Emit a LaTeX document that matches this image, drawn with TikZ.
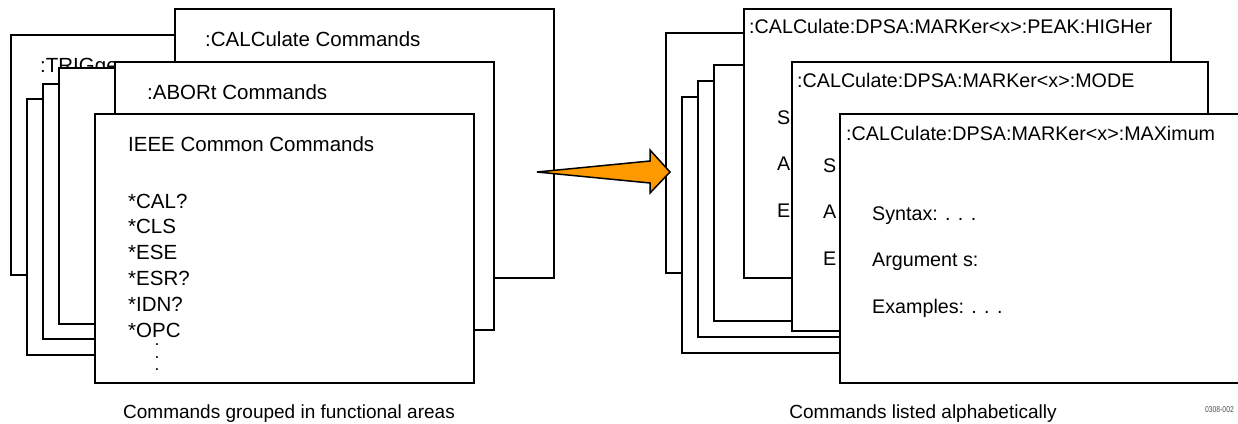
\documentclass[tikz,border=0pt]{standalone}
\usepackage{fontspec}
\setmainfont{Liberation Sans}
\newfontfamily\figfont[FakeStretch=0.8]{Liberation Sans}
\definecolor{arroworange}{RGB}{255,153,0}

\begin{document}
\begin{tikzpicture}[x=1pt, y=-1pt,
    page/.style={draw, fill=white, line width=2pt},
    lbl/.style={anchor=base west, inner sep=0pt, font=\fontsize{20.5}{24}\selectfont},
    hdr/.style={anchor=base west, inner sep=0pt, font=\fontsize{19.7}{24}\selectfont},
    captext/.style={anchor=base, inner sep=0pt, font=\fontsize{19}{22}\selectfont},
    bigarrow/.style={draw, fill=arroworange, line width=1.5pt, line join=miter}]
    \useasboundingbox (0,0) rectangle (1238,423);

    % Left stack: commands grouped by area
    \draw[page] (11,35) rectangle (400,275);
    \begin{scope}
        \clip (11,35) rectangle (115,275);
        \node[lbl] (trig) at (40,72) {:TRIGger Commands};
    \end{scope}
    \draw[page] (27,99) rectangle (300,355);
    \draw[page] (43,84) rectangle (300,339);
    \draw[page] (59,68) rectangle (300,324);
    \draw[page] (175,9) rectangle (554,278);
    \node[lbl] (calc) at (205,46) {:CALCulate Commands};
    \draw[page] (115,62) rectangle (494,330);
    \node[lbl] (abort) at (147,99) {:ABORt Commands};
    \draw[page] (95,114) rectangle (474,383);
    \node[lbl] (ieee) at (128,151) {IEEE Common Commands};
    \foreach \cmd [count=\i from 0] in {*CAL?, *CLS, *ESE, *ESR?, *IDN?, *OPC}
        \node[lbl] (cmd\i) at (128,208+25.8*\i) {\cmd};
    \node[lbl, anchor=north, align=center, font=\bfseries\fontsize{12}{12.5}\selectfont]
        (more) at (157,344) {.\\.\\.};

    % Right stack: commands in alphabetical order
    \draw[page] (666,33) rectangle (800,273);
    \draw[page] (682,97) rectangle (850,353);
    \draw[page] (698,81) rectangle (850,337);
    \draw[page] (714,65) rectangle (850,321);
    \draw[page] (744,9) rectangle (1171,278);
    \node[hdr] (peak) at (749,33) {:CALCulate:DPSA:MARKer<x>:PEAK:HIGHer};
    \foreach \t [count=\i from 0] in {S, A, E}
        \node[hdr] (peak\t) at (777,124+46.5*\i) {\t};
    \draw[page] (792,62) rectangle (1208,331);
    \node[hdr] (mode) at (797,87) {:CALCulate:DPSA:MARKer<x>:MODE};
    \foreach \t [count=\i from 0] in {S, A, E}
        \node[hdr] (mode\t) at (823,172+46.5*\i) {\t};
    \draw[page] (840,114) rectangle (1250,383);
    \node[hdr] (maxi) at (846,140) {:CALCulate:DPSA:MARKer<x>:MAXimum};
    \node[hdr] (syntax) at (872,220) {Syntax: . . .};
    \node[hdr] (args) at (872,266) {Argument s:};
    \node[hdr] (examples) at (872,313) {Examples: . . .};

    % Arrow between the stacks
    \coordinate (tail) at (537,172);
    \coordinate (tip) at (670,172);
    \draw[bigarrow] (tail) -- ++(113,-11) -- ++(0,-11) -- (tip)
        -- ++(-20,21) -- ++(0,-10) -- cycle;

    % Captions
    \node[captext] (leftcap) at (289,418) {Commands grouped in functional areas};
    \node[captext] (rightcap) at (923,418) {Commands listed alphabetically};
    \node[anchor=base east, inner sep=0pt, font=\figfont\fontsize{8.5}{9}\selectfont,
        text=black!70] (figno) at (1234,412) {0308-002};
\end{tikzpicture}
\end{document}
